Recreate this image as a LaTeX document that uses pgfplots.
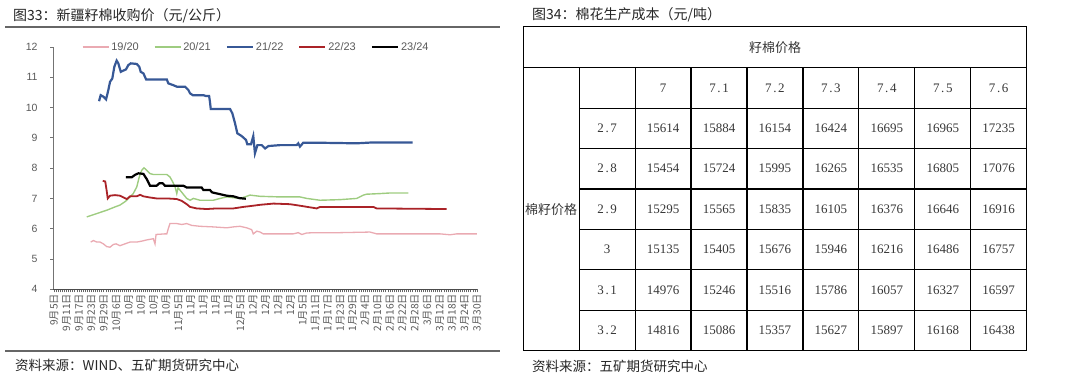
\documentclass[border=0pt]{standalone}
\usepackage{pgfplots}
\pgfplotsset{compat=1.18}
\usepackage{fontspec}
\setmainfont{Liberation Sans}
\newfontfamily\cjk{Noto Sans CJK SC}
\newfontfamily\tserif{Liberation Serif}
\definecolor{cpink}{RGB}{234,170,178}
\definecolor{cgreen}{RGB}{158,204,128}
\definecolor{cblue}{RGB}{55,88,150}
\definecolor{cred}{RGB}{170,35,40}
\definecolor{ctext}{RGB}{89,89,89}
\definecolor{ctab}{RGB}{55,55,55}
\newcommand{\dec}[2]{#1\makebox[6.5pt]{.}#2}
\begin{document}
\begin{tikzpicture}
% ---------- left chart ----------
\begin{axis}[
  at={(53pt,95.7pt)}, anchor=south west,
  scale only axis, width=424pt, height=242.3pt,
  xmin=-0.5, xmax=204, ymin=4, ymax=12,
  axis x line*=bottom, axis y line*=left,
  x axis line style={black!70, line width=0.8pt},
  y axis line style={black!55, line width=0.8pt},
  tick align=outside,
  ytick={4,5,...,12},
  major tick length=3pt, minor tick length=3pt,
  y tick style={black!55, line width=0.8pt},
  x tick style={black!60, line width=0.6pt},
  minor x tick num=5,
  minor tick style={black!60, line width=0.5pt},
  /pgf/number format/assume math mode=true,
  yticklabel style={font=\fontsize{10.5}{12}\selectfont, text=ctext, xshift=-9pt},
  xtick={0,6,...,204},
  xticklabels={9月5日,9月11日,9月17日,9月23日,9月29日,10月6日,10月,10月,10月,10月,11月5日,11月,11月,11月,11月,12月5日,12月,12月,12月,12月,1月5日,1月11日,1月17日,1月23日,1月29日,2月4日,2月10日,2月16日,2月22日,2月28日,3月6日,3月12日,3月18日,3月24日,3月30日},
  xticklabel style={font=\cjk\fontsize{10.2}{11}\selectfont, text=ctext, rotate=90, anchor=east, inner sep=1.5pt},
  legend columns=5,
  legend style={draw=none, fill=none, inner sep=0pt, at={(axis description cs:0.068,1)}, anchor=west,
    font=\fontsize{11}{12}\selectfont, text=ctext, /tikz/every even column/.append style={column sep=13pt}},
  legend cell align=left,
  legend image code/.code={\draw[#1] (0pt,0pt) -- (26pt,0pt);},
  clip=false,
]
\addplot[cpink, line width=1.3pt] coordinates {
(17.7,5.56)(19.0,5.61)(20.6,5.56)(22.2,5.56)(23.8,5.50)(25.4,5.41)(27.0,5.39)(28.6,5.48)(29.9,5.50)(31.8,5.44)(34.2,5.50)(36.7,5.56)(39.9,5.56)(42.3,5.59)(44.7,5.63)(47.9,5.67)(48.7,5.50)(49.2,5.81)(53.5,5.83)(54.4,5.83)(55.1,6.00)(55.9,6.17)(59.2,6.17)(61.6,6.14)(64.0,6.17)(66.4,6.11)(70.4,6.08)(76.8,6.06)(83.3,6.03)(86.5,6.06)(89.7,6.08)(92.9,6.03)(95.3,5.97)(96.1,5.83)(97.8,5.92)(99.4,5.89)(100.9,5.83)(105.8,5.83)(115.4,5.83)(117.8,5.87)(119.5,5.81)(121.9,5.86)(126.7,5.87)(137.9,5.87)(152.4,5.89)(155.6,5.83)(170.1,5.83)(186.2,5.83)(191.0,5.80)(194.2,5.83)(203.9,5.83)};
\addlegendentry{19/20}
\addplot[cgreen, line width=1.4pt] coordinates {
(15.8,6.39)(20.6,6.50)(25.4,6.61)(29.4,6.72)(31.8,6.78)(34.2,6.89)(36.7,7.05)(38.2,7.16)(39.9,7.38)(41.1,7.71)(42.3,7.93)(43.4,8.01)(44.7,7.93)(46.3,7.82)(47.9,7.79)(54.4,7.79)(55.9,7.71)(57.2,7.55)(58.4,7.38)(59.2,7.16)(59.8,7.35)(60.8,7.27)(62.1,7.16)(64.0,7.00)(65.6,6.94)(67.2,7.00)(70.4,6.94)(76.8,6.94)(80.1,7.00)(83.3,7.05)(89.7,7.00)(92.1,7.05)(94.5,7.11)(99.4,7.07)(109.0,7.05)(118.6,7.05)(121.9,7.00)(128.3,6.94)(137.9,6.96)(146.0,7.00)(149.2,7.11)(150.8,7.14)(157.2,7.16)(162.0,7.18)(170.9,7.18)};
\addlegendentry{20/21}
\addplot[cblue, line width=2.2pt] coordinates {
(21.7,10.21)(22.5,10.41)(23.8,10.36)(25.1,10.27)(26.2,10.58)(27.0,10.85)(28.1,10.96)(29.1,11.35)(30.2,11.55)(31.0,11.46)(32.2,11.18)(33.4,11.22)(34.7,11.26)(35.8,11.40)(37.0,11.46)(39.9,11.44)(41.1,11.35)(41.8,11.18)(43.1,11.13)(44.4,10.93)(54.4,10.93)(55.1,10.80)(57.5,10.74)(59.2,10.69)(63.2,10.69)(64.8,10.58)(65.6,10.47)(66.9,10.41)(72.0,10.41)(73.3,10.38)(74.8,10.38)(75.2,10.19)(75.6,9.95)(84.9,9.95)(86.0,9.81)(87.3,9.48)(88.4,9.15)(90.5,9.06)(92.6,8.93)(93.2,8.79)(95.0,8.79)(96.1,9.06)(96.9,8.49)(98.1,8.76)(100.2,8.76)(101.8,8.65)(103.4,8.73)(109.0,8.76)(117.0,8.76)(117.8,8.82)(118.6,8.71)(120.2,8.84)(126.7,8.84)(146.0,8.82)(154.0,8.85)(173.0,8.85)};
\addlegendentry{21/22}
\addplot[cred, line width=1.8pt] coordinates {
(23.5,7.58)(24.7,7.56)(25.4,7.25)(25.9,7.00)(27.0,7.09)(29.4,7.11)(31.8,7.09)(34.2,7.01)(35.1,6.98)(36.7,7.07)(39.9,7.07)(41.5,7.12)(43.1,7.07)(46.3,7.03)(49.5,7.00)(54.4,7.00)(59.2,6.98)(61.6,6.92)(64.0,6.81)(65.6,6.72)(68.8,6.67)(73.6,6.65)(78.5,6.67)(86.5,6.67)(91.3,6.72)(96.1,6.76)(99.4,6.79)(105.8,6.83)(113.8,6.81)(118.6,6.76)(126.7,6.67)(128.3,6.72)(154.0,6.72)(155.6,6.67)(189.4,6.65)};
\addlegendentry{22/23}
\addplot[black, line width=2.2pt] coordinates {
(34.6,7.70)(37.5,7.70)(39.1,7.78)(40.7,7.83)(43.1,7.81)(44.7,7.64)(46.3,7.42)(49.5,7.42)(50.8,7.50)(52.4,7.50)(53.5,7.42)(62.4,7.42)(64.0,7.36)(71.2,7.36)(72.0,7.28)(75.2,7.28)(76.2,7.20)(80.1,7.14)(83.3,7.09)(86.5,7.07)(89.4,7.01)(92.5,6.99)};
\addlegendentry{23/24}
\end{axis}
\begin{scope}[x=1pt,y=1pt]
% ---------- left panel frame ----------
\node[anchor=west,inner sep=0,font=\cjk\fontsize{14}{16}\selectfont,text=black!85] at (13,369) {图33：新疆籽棉收购价（元/公斤）};
\draw[line width=1.2pt,black!60] (5,358) -- (500,358);
\draw[line width=1.2pt,black!60] (5,34) -- (500,34);
\node[anchor=west,inner sep=0,font=\cjk\fontsize{13.5}{15}\selectfont,text=black!85] at (15,19.3) {资料来源：WIND、五矿期货研究中心};
% ---------- right panel: table ----------
\node[anchor=west,inner sep=0,font=\cjk\fontsize{14}{16}\selectfont,text=black!85] at (532,370) {图34：棉花生产成本（元/吨）};
\node[anchor=west,inner sep=0,font=\cjk\fontsize{13.5}{15}\selectfont,text=black!85] at (532,18.5) {资料来源：五矿期货研究中心};
\begin{scope}[line width=1.2pt]
\draw (523.3,34.4) rectangle (1026.7,358.3);
\draw (523.3,317.3) -- (1026.7,317.3);
\foreach \k in {1,...,6} \draw (579.23,{317.3-40.41*\k}) -- (1026.7,{317.3-40.41*\k});
\foreach \i in {1,...,8} \draw ({523.3+55.93*\i},34.4) -- ({523.3+55.93*\i},317.3);
\end{scope}
\node[font=\cjk\fontsize{13}{15}\selectfont,text=ctab] at (775,337.8) {籽棉价格};
\node[font=\cjk\fontsize{13}{15}\selectfont,text=ctab,inner sep=0] at (551.2,175.8) {棉籽价格};
\begin{scope}[every node/.style={font=\tserif\fontsize{13}{15}\selectfont,text=ctab}]
\foreach \v [count=\j] in {7,\dec{7}{1},\dec{7}{2},\dec{7}{3},\dec{7}{4},\dec{7}{5},\dec{7}{6}}
  \node at ({523.3+55.93*(\j+1.5)},297.1) {\v};
\foreach \lab/\a/\b/\c/\d/\e/\f/\g [count=\r] in {
  {\dec{2}{7}}/15614/15884/16154/16424/16695/16965/17235,
  {\dec{2}{8}}/15454/15724/15995/16265/16535/16805/17076,
  {\dec{2}{9}}/15295/15565/15835/16105/16376/16646/16916,
  {3}/15135/15405/15676/15946/16216/16486/16757,
  {\dec{3}{1}}/14976/15246/15516/15786/16057/16327/16597,
  {\dec{3}{2}}/14816/15086/15357/15627/15897/16168/16438}{
  \pgfmathsetmacro{\yy}{317.3-40.41*(\r+0.5)}
  \node at (607.2,\yy) {\lab};
  \foreach \v [count=\j] in {\a,\b,\c,\d,\e,\f,\g}
    \node at ({523.3+55.93*(\j+1.5)},\yy) {\v};
}
\end{scope}
\pgfresetboundingbox
\path (0,0) rectangle (1080,385);
\end{scope}
\end{tikzpicture}
\end{document}
